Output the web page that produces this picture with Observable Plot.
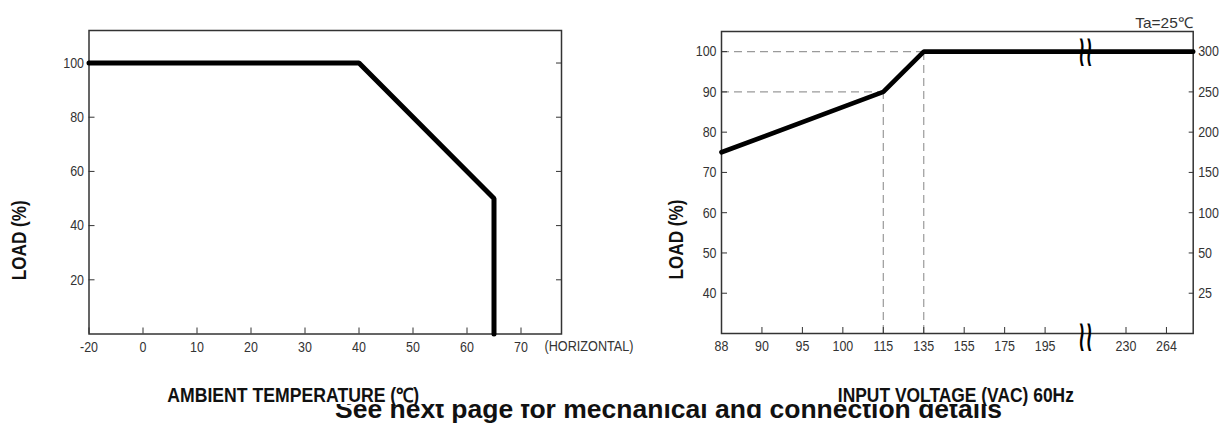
<!DOCTYPE html>
<html><head><meta charset="utf-8">
<script src="https://cdn.jsdelivr.net/npm/d3@7"></script>
<script src="https://cdn.jsdelivr.net/npm/@observablehq/plot@0.6"></script>
<style>
html,body{margin:0;padding:0;background:#fff}
body{width:1225px;height:425px;overflow:hidden;position:relative;font-family:"Liberation Sans",Arial,sans-serif}
#caption{position:absolute;left:335px;top:395.6px;font-size:26.5px;font-weight:bold;line-height:26.5px;white-space:nowrap;color:#111;z-index:0}
#cover{position:absolute;left:0;top:0;width:1225px;height:404px;background:#fff;z-index:1}
#charts{position:absolute;left:0;top:0;width:1225px;height:404px;z-index:2}
#left{position:absolute;left:0;top:0}
#right{position:absolute;left:612px;top:0}
</style></head>
<body>
<div id="caption">See next page for mechanical and connection details</div>
<div id="cover"></div>
<div id="charts"><div id="left"></div><div id="right"></div></div>
<script>
// ---- data: derating vs ambient temperature ----
const tempC = [-20, 40, 65, 65];
const tempLoad = [100, 100, 50, 0];
const tempTicks = [-20, 0, 10, 20, 30, 40, 50, 60, 70];
const tempLoadTicks = [20, 40, 60, 80, 100];

// ---- data: derating vs input voltage ----
const vac = [88, 115, 135, 285];
const vacLoad = [75, 90, 100, 100];
const vacTicks = [88, 90, 95, 100, 115, 135, 155, 175, 195, 230, 264];
const vacBreak = 212.5;
const vacEnd = 285;
const vacLoadTicks = [100, 90, 80, 70, 60, 50, 40];
const vacRightLabels = [300, 250, 200, 150, 100, 50, 25];
const guideVac = [115, 135];
const guideLoad = [90, 100];

const labelFont = "'Liberation Sans',Arial,sans-serif";
const ink = "#333";
const BREAK = "≀≀";

// target widths (px) for condensed-looking titles
const fixedLengths = new Map([
  ["LOAD (%)", 80],
  ["AMBIENT TEMPERATURE (℃)", 252],
  ["INPUT VOLTAGE (VAC) 60Hz", 236],
  ["Ta=25℃", 58],
  ["(HORIZONTAL)", 89],
  [BREAK, 15]
]);

function condense(svg) {
  d3.select(svg).selectAll("text").each(function() {
    if (this.querySelector("tspan")) return;
    const t = this.textContent;
    const len = this.getComputedTextLength();
    if (!(len > 0)) return;
    const target = fixedLengths.has(t) ? fixedLengths.get(t) : len * 0.83;
    this.setAttribute("textLength", target);
    this.setAttribute("lengthAdjust", "spacingAndGlyphs");
  });
}

// ---------- left chart ----------
{
  const W = 612, H = 404, mL = 88.5, mR = 51, mT = 30, mB = 70.5, step = 54;
  const tempRows = tempC.map((t, i) => ({t, load: tempLoad[i]}));
  const chart = Plot.plot({
    width: W, height: H, marginLeft: mL, marginRight: mR, marginTop: mT, marginBottom: mB,
    style: {fontFamily: labelFont, fontSize: "15px", color: ink, overflow: "visible", background: "transparent"},
    x: {type: "linear", domain: [-20, 0, 70, 77.5], range: [mL, mL + step, mL + 8 * step, W - mR], label: null},
    y: {domain: [0, 112], label: null},
    marks: [
      Plot.frame({stroke: ink, strokeWidth: 1.5}),
      Plot.axisX({ticks: tempTicks, tickSize: -6, tickPadding: 13, tickFormat: d => String(d), label: null}),
      Plot.axisY({ticks: tempLoadTicks, tickSize: -6, tickPadding: 11, label: null}),
      Plot.axisY({anchor: "right", ticks: tempLoadTicks, tickSize: -6, tickFormat: () => "", label: null}),
      Plot.line(tempRows, {x: "t", y: "load", stroke: "#000", strokeWidth: 5, strokeLinejoin: "miter"}),
      Plot.text(["LOAD (%)"], {text: d => d, frameAnchor: "left", rotate: -90, dx: -69.5, dy: 98,
        fontFamily: labelFont, fontWeight: "bold", fontSize: 19.5, fill: "#111"}),
      Plot.text(["AMBIENT TEMPERATURE (℃)"], {text: d => d, frameAnchor: "bottom", dx: -32, dy: 61.5, lineAnchor: "middle",
        fontFamily: labelFont, fontWeight: "bold", fontSize: 19.5, fill: "#111"}),
      Plot.text(["(HORIZONTAL)"], {text: d => d, frameAnchor: "bottom-right", textAnchor: "start", dx: -17, dy: 12.5,
        lineAnchor: "middle", fill: ink})
    ]
  });
  document.getElementById("left").appendChild(chart);
  condense(chart);
}

// ---------- right chart ----------
{
  const W = 613, H = 404, mL = 109, mR = 32.3, mT = 31, mB = 71, step = 40.45;
  const domain = [88, 90, 95, 100, 115, 135, 155, 175, 195, vacBreak, 230, 264, vacEnd];
  const range = domain.map((d, i) => i < domain.length - 1 ? mL + i * step : W - mR);
  const rows = vac.map((v, i) => ({v, load: vacLoad[i]}));
  const guides = guideVac.map((v, i) => ({v, load: guideLoad[i]}));
  const rightMap = new Map(vacLoadTicks.map((d, i) => [d, vacRightLabels[i]]));
  const chart = Plot.plot({
    width: W, height: H, marginLeft: mL, marginRight: mR, marginTop: mT, marginBottom: mB,
    style: {fontFamily: labelFont, fontSize: "15px", color: ink, overflow: "visible", background: "transparent"},
    x: {type: "linear", domain, range, label: null},
    y: {domain: [30, 105], label: null},
    marks: [
      Plot.ruleY(guides, {y: "load", x1: domain[0], x2: "v", stroke: "#9a9a9a", strokeWidth: 1.2, strokeDasharray: "8,5"}),
      Plot.ruleX(guides, {x: "v", y1: 30, y2: "load", stroke: "#9a9a9a", strokeWidth: 1.2, strokeDasharray: "8,5"}),
      Plot.frame({stroke: ink, strokeWidth: 1.5}),
      Plot.axisX({ticks: vacTicks, tickSize: -6, tickPadding: 13, tickFormat: d => String(d), label: null}),
      Plot.axisY({ticks: vacLoadTicks, tickSize: -6, tickPadding: 11, label: null}),
      Plot.axisY({anchor: "right", ticks: vacLoadTicks, tickSize: -5, tickPadding: 10, tickFormat: d => String(rightMap.get(d)), label: null}),
      Plot.line(rows, {x: "v", y: "load", stroke: "#000", strokeWidth: 4.7, strokeLinejoin: "miter"}),
      Plot.text([vacBreak], {x: d => d, y: 100, text: () => BREAK, fontFamily: "DejaVu Sans", fontWeight: "bold", fontSize: 44, fill: "#000"}),
      Plot.text([vacBreak], {x: d => d, y: 30, dy: 3, text: () => BREAK, fontFamily: "DejaVu Sans", fontWeight: "bold", fontSize: 44, fill: "#000"}),
      Plot.text(["LOAD (%)"], {text: d => d, frameAnchor: "left", rotate: -90, dx: -45, dy: 97,
        fontFamily: labelFont, fontWeight: "bold", fontSize: 19.5, fill: "#111"}),
      Plot.text(["INPUT VOLTAGE (VAC) 60Hz"], {text: d => d, frameAnchor: "bottom", dx: -1.5, dy: 62, lineAnchor: "middle",
        fontFamily: labelFont, fontWeight: "bold", fontSize: 19.5, fill: "#111"}),
      Plot.text(["Ta=25℃"], {text: d => d, frameAnchor: "top-right", textAnchor: "end", lineAnchor: "bottom", dy: -4, fill: ink})
    ]
  });
  document.getElementById("right").appendChild(chart);
  condense(chart);
}
</script>
</body></html>
